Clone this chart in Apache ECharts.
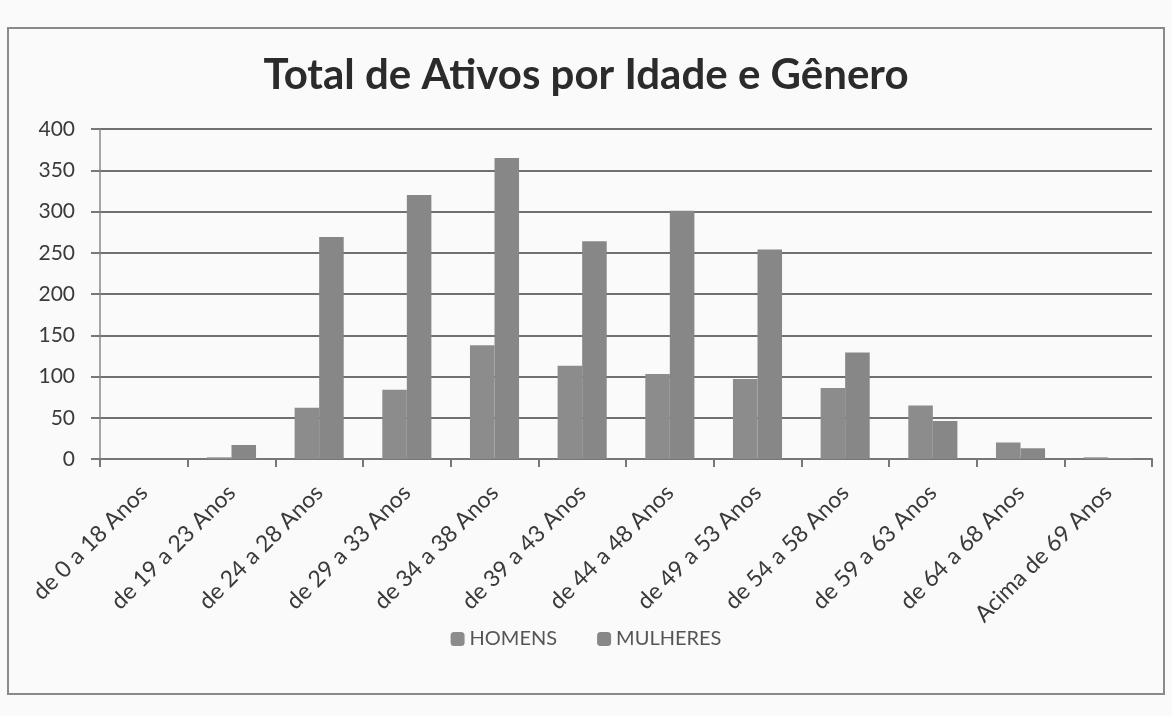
<!DOCTYPE html>
<html>
<head>
<meta charset="utf-8">
<script src="https://cdn.jsdelivr.net/npm/echarts@6/dist/echarts.min.js"></script>
<style>
  html, body { margin: 0; padding: 0; background: #fafafa; }
  #chart { width: 1172px; height: 716px; }
</style>
</head>
<body>
<div id="chart"></div>
<script>
// faixas etarias
var categorias = ['de 0 a 18 Anos', 'de 19 a 23 Anos', 'de 24 a 28 Anos', 'de 29 a 33 Anos',
    'de 34 a 38 Anos', 'de 39 a 43 Anos', 'de 44 a 48 Anos', 'de 49 a 53 Anos',
    'de 54 a 58 Anos', 'de 59 a 63 Anos', 'de 64 a 68 Anos', 'Acima de 69 Anos'];
var homens = [0, 2, 62, 84, 138, 113, 103, 97, 86, 65, 20, 2];
var mulheres = [0, 17, 269, 320, 365, 264, 301, 254, 129, 46, 13, 1];
var yTicks = [0, 400, 50]; // min, max, intervalo

var fonte = 'Lato, "Open Sans", sans-serif';

option = {
    "backgroundColor": '#fafafa',
    "title": {
        "text": "Total de Ativos por Idade e Gênero",
        "left": "center",
        "top": 49,
        "textStyle": {
            "color": "#2b2b2b",
            "fontWeight": "bold",
            "fontSize": 42,
            "fontFamily": fonte
        }
    },
    "legend": {
        "data": ['HOMENS', 'MULHERES'],
        "bottom": 62,
        "left": "center",
        "itemWidth": 14,
        "itemHeight": 14,
        "itemGap": 40,
        "textStyle": {
            "color": "#555",
            "fontSize": 20,
            "fontFamily": fonte
        }
    },
    "grid": {
        "left": 100,
        "right": 20,
        "top": 129,
        "bottom": 257
    },
    "xAxis": [{
        "type": "category",
        "data": categorias,
        "axisLine": {
            "show": true,
            "lineStyle": { "color": "#777", "width": 2 }
        },
        "axisTick": {
            "show": true,
            "length": 8,
            "lineStyle": { "color": "#777", "width": 2 }
        },
        "axisLabel": {
            "rotate": 45,
            "margin": 30,
            "interval": 0,
            "color": "#3a3a3a",
            "fontSize": 23,
            "fontFamily": fonte
        }
    }],
    "yAxis": [{
        "type": "value",
        "min": yTicks[0],
        "max": yTicks[1],
        "interval": yTicks[2],
        "axisLine": {
            "show": true,
            "lineStyle": { "color": "#888", "width": 1.5 }
        },
        "axisTick": {
            "show": true,
            "length": 9,
            "lineStyle": { "color": "#777", "width": 2 }
        },
        "axisLabel": {
            "margin": 25,
            "color": "#3a3a3a",
            "fontSize": 21,
            "fontFamily": fonte
        },
        "splitLine": {
            "show": true,
            "lineStyle": { "color": "#707070", "width": 2 }
        }
    }],
    "series": [{
        "name": "HOMENS",
        "type": "bar",
        "data": homens,
        "barGap": "0%",
        "barCategoryGap": "44%",
        "itemStyle": { "color": "#8c8c8c" }
    }, {
        "name": "MULHERES",
        "type": "bar",
        "data": mulheres,
        "itemStyle": { "color": "#878787" }
    }],
    "graphic": [{
        "type": "rect",
        "shape": { "x": 8, "y": 28, "width": 1156, "height": 666 },
        "style": { "fill": null, "stroke": "#8a8a8a", "lineWidth": 2 },
        "z": -1
    }]
};
myChart = echarts.init(document.getElementById('chart'));
myChart.setOption(option);
</script>
</body>
</html>
